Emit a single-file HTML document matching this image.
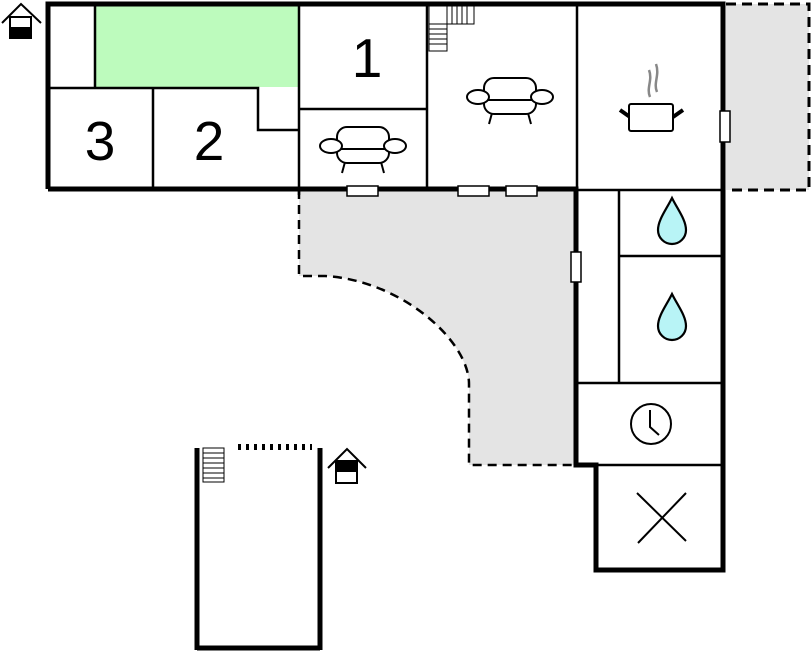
<!DOCTYPE html>
<html><head><meta charset="utf-8"><style>
html,body{margin:0;padding:0;background:#fff;width:811px;height:652px;overflow:hidden}
svg{display:block}
text{font-family:"Liberation Sans",sans-serif}
</style></head><body>
<svg width="811" height="652" viewBox="0 0 811 652" xmlns="http://www.w3.org/2000/svg">
<defs>
<g id="sofa" fill="#fff" stroke="#000" stroke-width="2">
  <line x1="-18" y1="16" x2="-21" y2="27"/><line x1="18" y1="16" x2="21" y2="27"/>
  <rect x="-26" y="-19" width="52" height="36" rx="10"/>
  <line x1="-22" y1="3" x2="22" y2="3"/>
  <ellipse cx="-32" cy="0" rx="11" ry="7"/><ellipse cx="32" cy="0" rx="11" ry="7"/>
</g>
<path id="drop" d="M0,-22 C-6,-10 -14,0 -14,10 A14,14 0 0 0 14,10 C14,0 6,-10 0,-22Z" fill="#b8f4f6" stroke="#000" stroke-width="2.2"/>
</defs>
<rect x="726" y="4" width="83" height="186" fill="#e4e4e4"/>
<path d="M299,190 L576,190 L576,465 L469,465 L469,384 C469,340 400,280 325,276 L299,276Z" fill="#e4e4e4"/>
<path d="M726,4 H809 V190 H726" fill="none" stroke="#000" stroke-width="3" stroke-dasharray="10,6"/>
<path d="M299,190 V276 H325 C400,280 469,340 469,384 V465 H576" fill="none" stroke="#000" stroke-width="2.5" stroke-dasharray="9,6"/>
<rect x="96" y="6" width="202" height="81" fill="#bdfbbd"/>
<g stroke="#000" stroke-width="2.5" fill="none">
  <line x1="95" y1="4" x2="95" y2="88"/>
  <polyline points="48,88 258,88 258,130 299,130"/>
  <line x1="153" y1="88" x2="153" y2="189"/>
  <line x1="299" y1="4" x2="299" y2="195"/>
  <line x1="299" y1="109" x2="427" y2="109"/>
  <line x1="427" y1="4" x2="427" y2="189"/>
  <line x1="577" y1="4" x2="577" y2="189"/>
  <line x1="576" y1="190" x2="723" y2="190"/>
  <line x1="619" y1="190" x2="619" y2="383"/>
  <line x1="619" y1="256" x2="723" y2="256"/>
  <line x1="576" y1="383" x2="723" y2="383"/>
  <line x1="576" y1="465" x2="723" y2="465"/>
</g>
<g stroke="#000" stroke-width="5" fill="none">
  <polyline points="48,189 48,4 723,4 723,570 596,570 596,465 576,465 576,189 48,189"/>
  <line x1="197" y1="448" x2="197" y2="650"/>
  <line x1="320" y1="448" x2="320" y2="650"/>
  <line x1="197" y1="648" x2="320" y2="648"/>
</g>
<line x1="238" y1="447" x2="312" y2="447" stroke="#000" stroke-width="6" stroke-dasharray="3,5"/>
<g fill="#fff" stroke="#000" stroke-width="1.5">
  <rect x="347" y="186" width="31" height="10"/>
  <rect x="458" y="186" width="31" height="10"/>
  <rect x="506" y="186" width="31" height="10"/>
  <rect x="720" y="111" width="10" height="31"/>
  <rect x="571" y="252" width="10" height="30"/>
</g>
<g fill="#fff" stroke="#000" stroke-width="1">
  <rect x="429" y="6" width="18" height="18"/>
  <rect x="447" y="6" width="27" height="18"/>
  <path d="M452,6V24M457,6V24M462,6V24M467,6V24"/>
  <rect x="429" y="24" width="18" height="27"/>
  <path d="M429,29H447M429,34H447M429,39H447M429,44H447"/>
  <rect x="203" y="448" width="21" height="34"/>
  <path d="M203,453H224M203,458H224M203,463H224M203,468H224M203,473H224M203,478H224"/>
</g>
<text x="100" y="160" font-size="55" text-anchor="middle">3</text>
<text x="209" y="160" font-size="55" text-anchor="middle">2</text>
<text x="367" y="77" font-size="55" text-anchor="middle">1</text>
<use href="#sofa" transform="translate(363,146)"/>
<use href="#sofa" transform="translate(510,97)"/>
<g stroke="#000" fill="#fff">
  <path d="M650,97 C646,88 653,80 649,70 M657,92 C653,83 660,75 656,64" stroke="#888" stroke-width="2.5" fill="none"/>
  <line x1="620" y1="110" x2="630" y2="117" stroke-width="4"/>
  <line x1="673" y1="117" x2="683" y2="110" stroke-width="4"/>
  <rect x="629" y="104" width="44" height="27" rx="2" stroke-width="2"/>
</g>
<use href="#drop" transform="translate(672,220)"/>
<use href="#drop" transform="translate(672,316)"/>
<circle cx="651" cy="424" r="20" fill="#fff" stroke="#000" stroke-width="2"/>
<polyline points="650,410 650,427 659,435" fill="none" stroke="#000" stroke-width="2"/>
<path d="M637,493 L686,541 M686,493 L638,543" stroke="#000" stroke-width="2"/>
<g stroke="#000" stroke-width="2" fill="#fff">
  <polyline points="2,23 21,4 41,23" fill="none"/>
  <rect x="10" y="17" width="21" height="21"/>
  <rect x="10" y="28" width="21" height="10" fill="#000"/>
  <polyline points="328,468 347,449 366,468" fill="none"/>
  <rect x="336" y="461" width="21" height="22"/>
  <rect x="336" y="461" width="21" height="10" fill="#000"/>
</g>
</svg>
</body></html>
